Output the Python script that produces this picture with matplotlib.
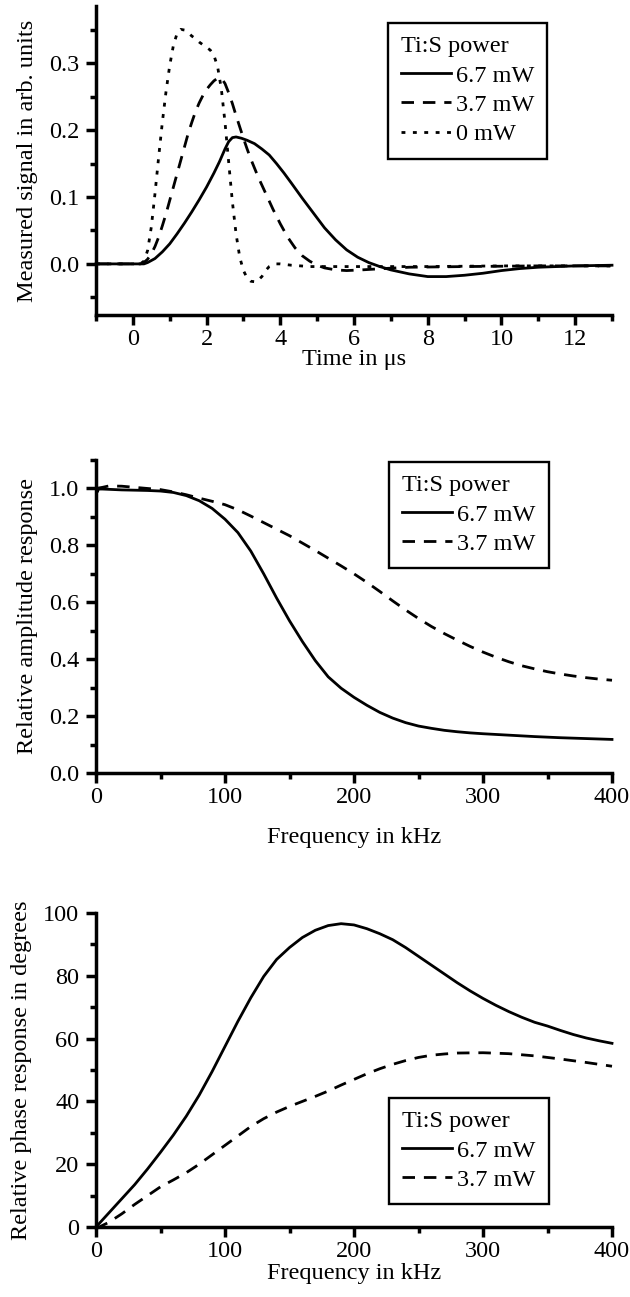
import matplotlib
matplotlib.use("Agg")
import matplotlib.pyplot as plt
from matplotlib.ticker import MultipleLocator, FormatStrFormatter

plt.rcParams['font.family'] = ['Liberation Serif', 'DejaVu Serif']

FS = 17.5

# --- panel 1: measured signal vs time (us) ---
t_67 = [-1.0, 0.0, 0.3, 0.4, 0.6, 0.8, 1.0, 1.2, 1.4, 1.6, 1.8, 2.0, 2.2, 2.35, 2.5, 2.6,
        2.7, 2.8, 2.95, 3.1, 3.3, 3.5, 3.7, 3.9, 4.1, 4.3, 4.6, 4.9, 5.2, 5.5, 5.8, 6.1,
        6.4, 6.7, 7.0, 7.5, 8.0, 8.5, 9.0, 9.5, 10.0, 10.5, 11.0, 12.0, 13.0]
s_67 = [0.0, 0.0, 0.0, 0.002, 0.008, 0.018, 0.030, 0.045, 0.061, 0.078, 0.096, 0.115,
        0.136, 0.153, 0.172, 0.183, 0.189, 0.190, 0.188, 0.185, 0.180, 0.172, 0.163, 0.150,
        0.136, 0.121, 0.098, 0.076, 0.054, 0.036, 0.021, 0.010, 0.002, -0.004, -0.009,
        -0.015, -0.019, -0.019, -0.017, -0.014, -0.010, -0.007, -0.005, -0.003, -0.002]

t_37 = [-1.0, 0.2, 0.3, 0.4, 0.5, 0.6, 0.7, 0.8, 0.9, 1.0, 1.1, 1.2, 1.3, 1.4, 1.5, 1.6,
        1.7, 1.8, 1.9, 2.0, 2.1, 2.2, 2.3, 2.4, 2.5, 2.6, 2.7, 2.8, 2.9, 3.0, 3.1, 3.2,
        3.4, 3.6, 3.8, 4.0, 4.2, 4.4, 4.6, 4.8, 5.0, 5.2, 5.5, 5.8, 6.2, 6.8, 7.5, 9.0,
        11.0, 13.0]
s_37 = [0.0, 0.0, 0.002, 0.007, 0.015, 0.026, 0.040, 0.057, 0.075, 0.095, 0.115, 0.135,
        0.155, 0.175, 0.195, 0.212, 0.228, 0.241, 0.252, 0.261, 0.268, 0.274, 0.278, 0.278,
        0.270, 0.256, 0.240, 0.222, 0.205, 0.188, 0.172, 0.157, 0.130, 0.106, 0.082,
        0.060, 0.040, 0.024, 0.012, 0.004, -0.002, -0.006, -0.009, -0.010, -0.009, -0.007,
        -0.005, -0.004, -0.003, -0.003]

t_0 = [-1.0, 0.2, 0.3, 0.4, 0.5, 0.6, 0.7, 0.8, 0.9, 1.0, 1.1, 1.2, 1.3, 1.4, 1.5, 1.6,
       1.7, 1.8, 1.9, 2.0, 2.1, 2.2, 2.3, 2.4, 2.5, 2.6, 2.7, 2.8, 2.9, 3.0, 3.1, 3.2,
       3.35, 3.5, 3.6, 3.7, 3.85, 4.0, 4.3, 4.8, 6.0, 8.0, 10.0, 13.0]
s_0 = [0.0, 0.0, 0.004, 0.020, 0.055, 0.105, 0.160, 0.212, 0.258, 0.297, 0.327, 0.345,
       0.351, 0.350, 0.346, 0.341, 0.337, 0.332, 0.328, 0.324, 0.320, 0.312, 0.295, 0.262,
       0.212, 0.152, 0.093, 0.045, 0.010, -0.010, -0.021, -0.026, -0.027, -0.019, -0.010,
       -0.004, 0.000, 0.000, -0.002, -0.004, -0.004, -0.004, -0.003, -0.003]

# --- panel 2: relative amplitude response vs frequency (kHz) ---
f_amp_67 = [0, 1, 2, 5, 10, 20, 30, 40, 50, 60, 70, 80, 90, 100, 110, 120, 130, 140, 150,
            160, 170, 180, 190, 200, 210, 220, 230, 240, 250, 260, 270, 280, 290, 300, 320,
            340, 360, 380, 400]
a_67 = [1.0, 0.988, 0.998, 0.998, 0.997, 0.995, 0.994, 0.993, 0.991, 0.986, 0.975, 0.957,
        0.930, 0.892, 0.845, 0.780, 0.700, 0.615, 0.535, 0.462, 0.395, 0.338, 0.298, 0.266,
        0.238, 0.213, 0.193, 0.177, 0.165, 0.157, 0.150, 0.145, 0.141, 0.138, 0.133, 0.128,
        0.124, 0.121, 0.118]

f_amp_37 = [0, 5, 10, 20, 30, 40, 50, 60, 70, 80, 90, 100, 110, 120, 130, 140, 150, 160,
            170, 180, 190, 200, 210, 220, 230, 240, 250, 260, 270, 280, 290, 300, 310, 320,
            330, 340, 350, 360, 370, 380, 390, 400]
a_37 = [1.0, 1.004, 1.009, 1.008, 1.004, 1.0, 0.996, 0.988, 0.978, 0.966, 0.955, 0.943,
        0.925, 0.903, 0.880, 0.857, 0.834, 0.808, 0.782, 0.755, 0.728, 0.700, 0.670, 0.638,
        0.605, 0.573, 0.543, 0.515, 0.490, 0.467, 0.445, 0.425, 0.407, 0.391, 0.377, 0.366,
        0.356, 0.348, 0.341, 0.335, 0.330, 0.326]

# --- panel 3: relative phase response vs frequency (kHz) ---
f_ph_67 = [0, 10, 20, 30, 40, 50, 60, 70, 80, 90, 100, 110, 120, 130, 140, 150, 160, 170,
           180, 190, 200, 210, 220, 230, 240, 250, 260, 270, 280, 290, 300, 310, 320, 330,
           340, 350, 360, 370, 380, 390, 400]
p_67 = [0.0, 4.5, 9.0, 13.5, 18.5, 23.8, 29.3, 35.3, 42.0, 49.5, 57.5, 65.5, 73.0, 79.8,
        85.2, 89.0, 92.2, 94.5, 96.0, 96.6, 96.2, 95.0, 93.4, 91.5, 89.0, 86.2, 83.4, 80.6,
        77.8, 75.2, 72.8, 70.6, 68.6, 66.8, 65.2, 64.0, 62.6, 61.3, 60.2, 59.3, 58.5]

f_ph_37 = [0, 10, 20, 30, 40, 50, 60, 70, 80, 90, 100, 110, 120, 130, 140, 150, 160, 170,
           180, 190, 200, 210, 220, 230, 240, 250, 260, 270, 280, 300, 320, 340, 360, 380,
           400]
p_37 = [-0.5, 1.5, 4.2, 7.2, 10.0, 12.8, 15.0, 17.3, 20.0, 23.0, 26.0, 29.0, 32.0, 34.5,
        36.6, 38.4, 40.0, 41.6, 43.3, 45.2, 47.0, 48.8, 50.4, 51.8, 53.0, 54.0, 54.7, 55.1,
        55.4, 55.5, 55.2, 54.5, 53.5, 52.4, 51.2]

LW = 2.0
DASH = (0, (4.5, 3.2))
DOT = (0, (1.4, 2.7))


def style_axis(ax):
    for side in ('top', 'right'):
        ax.spines[side].set_visible(False)
    for side in ('left', 'bottom'):
        ax.spines[side].set_linewidth(2.5)
    ax.tick_params(which='major', direction='out', length=7, width=2.5, labelsize=FS)
    ax.tick_params(which='minor', direction='out', length=4.5, width=2.5)
    ax.tick_params(axis='x', which='major', pad=3)
    ax.tick_params(axis='y', which='major', pad=5)


def add_legend(ax, anchor):
    leg = ax.legend(title='Ti:S power', loc='upper left', bbox_to_anchor=anchor,
                    fontsize=FS, title_fontsize=FS, frameon=True, fancybox=False,
                    edgecolor='black', framealpha=1, handlelength=2.05, handletextpad=0.2,
                    labelspacing=0.3, borderpad=0.55, borderaxespad=0, alignment='left')
    leg.get_frame().set_linewidth(1.7)
    return leg


fig = plt.figure(figsize=(6.3, 12.97), dpi=100)
left, width = 96 / 630, 516 / 630

ax1 = fig.add_axes([left, 982 / 1297, width, 309 / 1297])
ax1.plot(t_67, s_67, color='black', lw=LW, label='6.7 mW')
ax1.plot(t_37, s_37, color='black', lw=LW, ls=DASH, label='3.7 mW')
ax1.plot(t_0, s_0, color='black', lw=LW, ls=DOT, label='0 mW')
ax1.set_xlim(-1, 13)
ax1.set_ylim(-0.0765, 0.386)
ax1.xaxis.set_major_locator(MultipleLocator(2))
ax1.xaxis.set_minor_locator(MultipleLocator(1))
ax1.yaxis.set_major_locator(MultipleLocator(0.1))
ax1.yaxis.set_minor_locator(MultipleLocator(0.05))
ax1.yaxis.set_major_formatter(FormatStrFormatter('%.1f'))
ax1.set_xlabel('Time in μs', fontsize=FS, labelpad=-1)
ax1.set_ylabel('Measured signal in arb. units', fontsize=FS, labelpad=8)
style_axis(ax1)
add_legend(ax1, (0.565, 0.945))

ax2 = fig.add_axes([left, 524 / 1297, width, 313 / 1297])
ax2.plot(f_amp_67, a_67, color='black', lw=LW, label='6.7 mW')
ax2.plot(f_amp_37, a_37, color='black', lw=LW, ls=DASH, label='3.7 mW')
ax2.set_xlim(0, 400)
ax2.set_ylim(0, 1.1001)
ax2.xaxis.set_major_locator(MultipleLocator(100))
ax2.xaxis.set_minor_locator(MultipleLocator(50))
ax2.yaxis.set_major_locator(MultipleLocator(0.2))
ax2.yaxis.set_minor_locator(MultipleLocator(0.1))
ax2.yaxis.set_major_formatter(FormatStrFormatter('%.1f'))
ax2.set_xlabel('Frequency in kHz', fontsize=FS, labelpad=14)
ax2.set_ylabel('Relative amplitude response', fontsize=FS, labelpad=8)
style_axis(ax2)
add_legend(ax2, (0.568, 0.994))

ax3 = fig.add_axes([left, 70 / 1297, width, 314 / 1297])
ax3.plot(f_ph_67, p_67, color='black', lw=LW, label='6.7 mW')
ax3.plot(f_ph_37, p_37, color='black', lw=LW, ls=DASH, label='3.7 mW')
ax3.set_xlim(0, 400)
ax3.set_ylim(0, 100)
ax3.xaxis.set_major_locator(MultipleLocator(100))
ax3.xaxis.set_minor_locator(MultipleLocator(50))
ax3.yaxis.set_major_locator(MultipleLocator(20))
ax3.yaxis.set_minor_locator(MultipleLocator(10))
ax3.set_xlabel('Frequency in kHz', fontsize=FS, labelpad=1)
ax3.set_ylabel('Relative phase response in degrees', fontsize=FS, labelpad=8)
style_axis(ax3)
add_legend(ax3, (0.568, 0.411))

for ax in (ax1, ax2, ax3):
    for line in ax.lines:
        line.set_clip_on(False)

fig.savefig('out.png', dpi=100)
